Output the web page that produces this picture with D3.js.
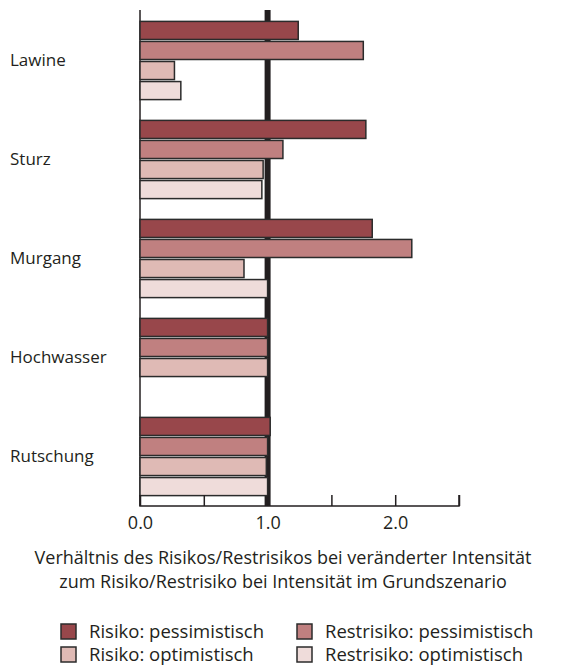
<!DOCTYPE html>
<html>
<head>
<meta charset="utf-8">
<script src="https://cdn.jsdelivr.net/npm/d3@7"></script>
<style>
  body { margin: 0; background: #fff; }
  text { font-family: "Open Sans", sans-serif; fill: #231f20; }
</style>
</head>
<body>
<div id="chart"></div>
<script>
const categories = ["Lawine", "Sturz", "Murgang", "Hochwasser", "Rutschung"];
const seriesNames = ["Risiko: pessimistisch", "Restrisiko: pessimistisch", "Risiko: optimistisch", "Restrisiko: optimistisch"];
const risikoPess = [1.24, 1.77, 1.82, 1.0, 1.02];
const restPess = [1.75, 1.12, 2.13, 1.0, 1.0];
const risikoOpt = [0.27, 0.965, 0.815, 1.0, 0.99];
const restOpt = [0.32, 0.955, 1.0, null, 1.0];
const tickValues = [0, 0.5, 1, 1.5, 2, 2.5];
const tickLabels = ["0.0", "", "1.0", "", "2.0", ""];
const colors = ["#98474b", "#c08080", "#dfbab5", "#efdcda"];

const seriesValues = [risikoPess, restPess, risikoOpt, restOpt];

const width = 564, height = 668;
const svg = d3.select("#chart").append("svg")
  .attr("width", width)
  .attr("height", height);

const x = d3.scaleLinear().domain([0, 2.5]).range([140, 459]);
const y = d3.scaleBand().domain(categories).range([11, 506])
  .paddingInner(0.21).paddingOuter(0.105);
const ySub = d3.scaleBand().domain(d3.range(4)).range([0, y.bandwidth()])
  .paddingInner(0.1);

// reference line at 1.0
svg.append("line")
  .attr("x1", x(1)).attr("x2", x(1))
  .attr("y1", 10).attr("y2", 506)
  .attr("stroke", "#231f20")
  .attr("stroke-width", 6);

// left axis line
svg.append("line")
  .attr("x1", x(0)).attr("x2", x(0))
  .attr("y1", 10).attr("y2", 506)
  .attr("stroke", "#231f20")
  .attr("stroke-width", 1.5);

// bars
const bars = [];
categories.forEach((c, i) => {
  seriesValues.forEach((vals, s) => {
    if (vals[i] != null) bars.push({ cat: c, s: s, v: vals[i] });
  });
});

svg.append("g").selectAll("rect")
  .data(bars)
  .enter()
  .append("rect")
  .attr("x", x(0))
  .attr("y", d => y(d.cat) + ySub(d.s))
  .attr("width", d => x(d.v) - x(0))
  .attr("height", ySub.bandwidth())
  .attr("fill", d => colors[d.s])
  .attr("stroke", "#2b2b2b")
  .attr("stroke-width", 1.5);

// category labels
svg.append("g").selectAll("text")
  .data(categories)
  .enter()
  .append("text")
  .attr("x", 10)
  .attr("y", d => y(d) + y.bandwidth() / 2)
  .attr("dy", "0.35em")
  .style("font-size", "17px")
  .text(d => d);

// bottom axis
const xAxis = d3.axisBottom(x)
  .tickValues(tickValues)
  .tickSize(-11)
  .tickPadding(10)
  .tickFormat((d, i) => tickLabels[i]);

const gx = svg.append("g")
  .attr("transform", "translate(0,506)")
  .call(xAxis);
gx.select(".domain")
  .attr("d", "M" + x(0) + ",-11V0H" + x(2.5) + "V-11")
  .attr("stroke", "#231f20")
  .attr("stroke-width", 1.5);
gx.selectAll(".tick line").attr("stroke", "#231f20").attr("stroke-width", 1.5);
gx.selectAll(".tick text")
  .style("font-size", "18px")
  .style("font-family", "'Open Sans', sans-serif")
  .attr("fill", "#231f20");

// axis title
const title = ["Verhältnis des Risikos/Restrisikos bei veränderter Intensität",
  "zum Risiko/Restrisiko bei Intensität im Grundszenario"];
svg.append("g").selectAll("text")
  .data(title)
  .enter()
  .append("text")
  .attr("x", 283)
  .attr("y", (d, i) => 564 + i * 24)
  .attr("text-anchor", "middle")
  .style("font-size", "18px")
  .text(d => d);

// legend
const legend = svg.append("g");
const items = legend.selectAll("g")
  .data(seriesNames)
  .enter()
  .append("g")
  .attr("transform", (d, i) => "translate(" + (i % 2 === 0 ? 61 : 297) + "," + (624 + Math.floor(i / 2) * 23) + ")");

items.append("rect")
  .attr("width", 15)
  .attr("height", 15)
  .attr("fill", (d, i) => colors[i])
  .attr("stroke", "#2b2b2b")
  .attr("stroke-width", 1.5);

items.append("text")
  .attr("x", 28)
  .attr("y", 8)
  .attr("dy", "0.35em")
  .style("font-size", "18.5px")
  .text(d => d);
</script>
</body>
</html>
